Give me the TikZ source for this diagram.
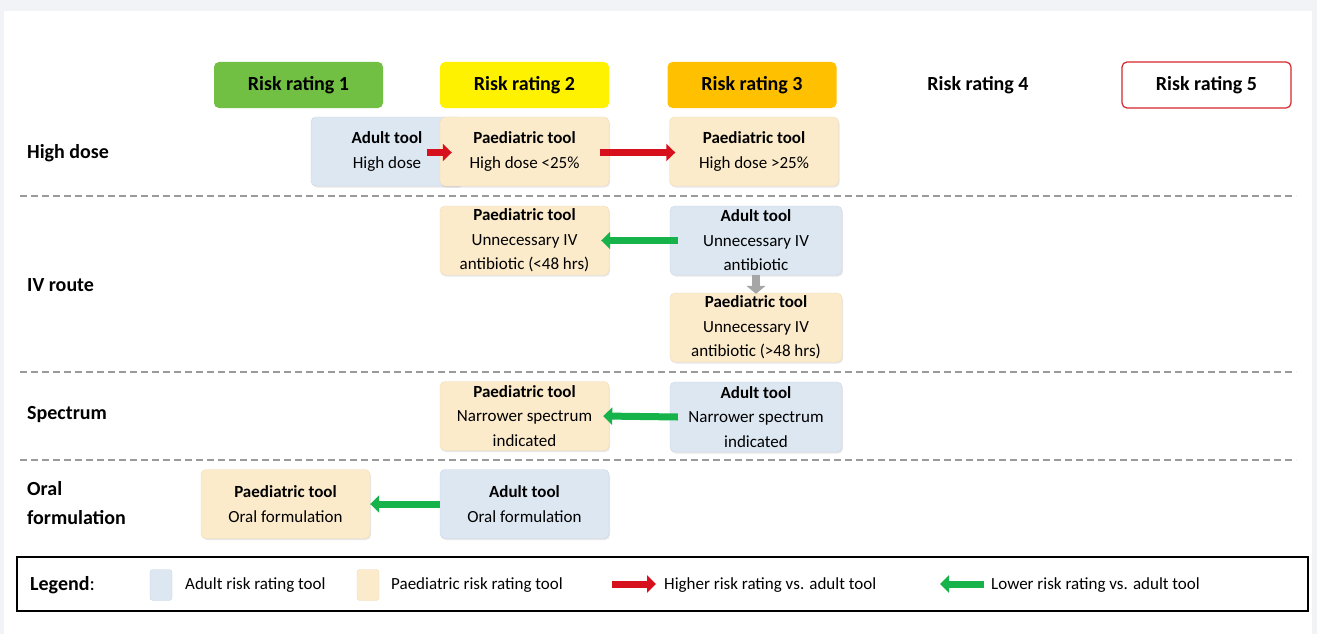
\documentclass[tikz,border=0pt]{standalone}
\usepackage{fontspec}
\setmainfont{Carlito}
\usetikzlibrary{arrows.meta,shadows}
\definecolor{adultc}{HTML}{DCE7F2}
\definecolor{adultd}{HTML}{C9D6E4}
\definecolor{paedc}{HTML}{FCEBCB}
\definecolor{paedd}{HTML}{EEDDB8}
\definecolor{rgreen}{HTML}{72C043}
\definecolor{ryellow}{HTML}{FFF200}
\definecolor{rorange}{HTML}{FFC000}
\definecolor{rred}{HTML}{D7252D}
\definecolor{agreen}{HTML}{16B24A}
\definecolor{ared}{HTML}{D7101E}
\definecolor{agray}{HTML}{A6A6A6}
\definecolor{dashc}{HTML}{9A9A9A}
\definecolor{bgc}{HTML}{F1F3F6}
\begin{document}
\begin{tikzpicture}[x=1pt,y=-1pt,
  box/.style={rounded corners=5pt, minimum width=169pt, minimum height=69pt, align=center, inner sep=1pt,
    font=\fontsize{17}{24.5}\selectfont,
    drop shadow={shadow xshift=1pt,shadow yshift=-1.5pt,opacity=0.18}},
  adult/.style={box, fill=adultc, draw=adultd},
  paed/.style={box, fill=paedc, draw=paedd},
  hdr/.style={rounded corners=5pt, minimum width=169pt, minimum height=46pt, font=\fontsize{20}{22}\selectfont\bfseries},
  rowlab/.style={anchor=west, align=left, inner sep=0pt, font=\fontsize{20}{29}\selectfont\bfseries},
  sep/.style={draw=dashc, line width=1.3pt, dash pattern=on 7pt off 4pt},
  redarr/.style={draw=ared, line width=7pt, -{Triangle[length=9pt,width=17pt]}},
  greenarr/.style={draw=agreen, line width=7pt, -{Triangle[length=9pt,width=17pt]}},
  grayarr/.style={draw=agray, line width=8pt, -{Triangle[length=8pt,width=19pt]}},
  legtext/.style={anchor=west, inner sep=0pt, font=\fontsize{17}{19}\selectfont},
  swatch/.style={rounded corners=3pt, minimum width=22pt, minimum height=31pt, inner sep=0pt}
]
\useasboundingbox (0,0) rectangle (1317,634);
\fill[bgc] (0,0) rectangle (1317,634);
\fill[white] (4,11) rectangle (1312,634);

% headers
\node[hdr, fill=rgreen] (r1) at (298.5,85) {Risk rating 1};
\node[hdr, fill=ryellow] (r2) at (524.5,85) {Risk rating 2};
\node[hdr, fill=rorange] (r3) at (752,85) {Risk rating 3};
\node[hdr] (r4) at (978,85) {Risk rating 4};
\node[hdr, fill=white, draw=rred, line width=1.2pt] (r5) at (1206.5,85) {Risk rating 5};

% row labels
\node[rowlab] (l1) at (27,153) {High dose};
\node[rowlab] (l2) at (27,285) {IV route};
\node[rowlab] (l3) at (27,415) {Spectrum};
\node[rowlab] (l4) at (27,503) {Oral\\formulation};

% separators
\coordinate (d1a) at (20,196); \coordinate (d1b) at (1296,196);
\coordinate (d2a) at (20,372); \coordinate (d2b) at (1296,372);
\coordinate (d3a) at (20,460); \coordinate (d3b) at (1296,460);
\draw[sep] (d1a) -- (d1b);
\draw[sep] (d2a) -- (d2b);
\draw[sep] (d3a) -- (d3b);

% high dose
\node[adult, minimum width=152pt] (ha) at (387,151.5) {\textbf{Adult tool}\\High dose};
\node[paed] (hp) at (524.5,151.5) {\textbf{Paediatric tool}\\High dose <25\%};
\node[paed] (hp3) at (754,151.5) {\textbf{Paediatric tool}\\High dose >25\%};

% IV route
\node[paed] (ip) at (524.5,240.5) {\textbf{Paediatric tool}\\Unnecessary IV\\antibiotic (<48 hrs)};
\node[adult, minimum width=172pt] (ia) at (756,240.5) {\textbf{Adult tool}\\Unnecessary IV\\antibiotic};
\node[paed, minimum width=172pt] (ip2) at (756,327.5) {\textbf{Paediatric tool}\\Unnecessary IV\\antibiotic (>48 hrs)};

% spectrum
\node[paed] (sp) at (524.5,416) {\textbf{Paediatric tool}\\Narrower spectrum\\indicated};
\node[adult, minimum width=172pt, minimum height=70pt] (sa) at (756,417) {\textbf{Adult tool}\\Narrower spectrum\\indicated};

% oral
\node[paed] (op) at (285.5,504) {\textbf{Paediatric tool}\\Oral formulation};
\node[adult] (oa) at (524.5,504) {\textbf{Adult tool}\\Oral formulation};

% arrows
\draw[redarr] ([xshift=-13pt,yshift=-1pt]hp.west) -- ([xshift=12pt,yshift=-1pt]hp.west);
\draw[redarr] ([xshift=-9pt,yshift=-1pt]hp.east) -- ([xshift=6pt,yshift=-1pt]hp3.west);
\draw[greenarr] ([xshift=8pt]ia.west) -- ([xshift=-8pt]ip.east);
\draw[greenarr] ([xshift=8pt]sa.west) -- ([xshift=-6pt]sp.east);
\draw[greenarr] (oa.west) -- (op.east);
\draw[grayarr] (ia.south) -- ([yshift=-1pt]ip2.north);

% legend
\node[draw=black, line width=1.3pt, minimum width=1291pt, minimum height=54pt, inner sep=0pt] (leg) at (662.5,584) {};
\node[anchor=west, inner sep=0pt, font=\fontsize{20}{22}\selectfont] (legl) at (30,585) {\textbf{Legend}:};
\node[swatch, fill=adultc, draw=adultd] (sw1) at (161,585) {};
\node[legtext] (lt1) at (185,585) {Adult risk rating tool};
\node[swatch, fill=paedc, draw=paedd] (sw2) at (368,585) {};
\node[legtext] (lt2) at (391,585) {Paediatric risk rating tool};
\coordinate (la1) at (612,584); \coordinate (la2) at (656,584);
\draw[redarr] (la1) -- (la2);
\node[legtext] (lt3) at (664,585) {Higher risk rating vs. adult tool};
\coordinate (lb1) at (984,584); \coordinate (lb2) at (940,584);
\draw[greenarr] (lb1) -- (lb2);
\node[legtext] (lt4) at (991,585) {Lower risk rating vs. adult tool};
\end{tikzpicture}
\end{document}
